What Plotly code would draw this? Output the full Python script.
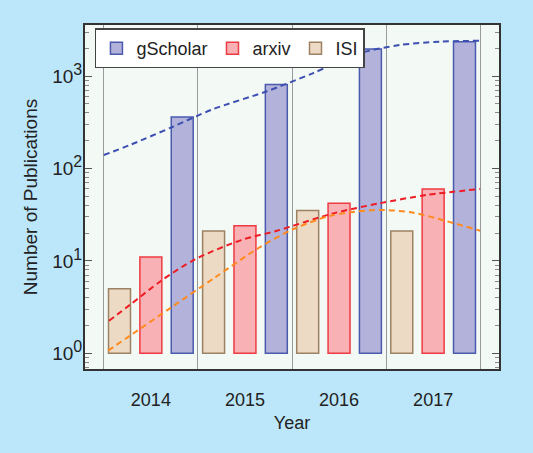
"""
Число публикаций по годам: gScholar, arxiv, ISI
Столбцы на логарифмической шкале + пунктирные тренды
"""

import numpy as np
import plotly.graph_objects as go

# === ДАННЫЕ ===
years = [2014, 2015, 2016, 2017]
gscholar = [360, 810, 1970, 2360]
arxiv = [11, 24, 42, 60]
isi = [5, 21, 35, 21]

# пунктирные тренды
gscholar_trend_x = [2013.5, 2013.78, 2014.22, 2014.66, 2015.22, 2015.72, 2016.22, 2016.65, 2017.07, 2017.5]
gscholar_trend_y = [140, 180, 279, 438, 678, 1072, 1766, 2171, 2357, 2415]
arxiv_trend_x = [2013.556, 2013.79, 2014.11, 2014.47, 2014.96, 2015.34, 2015.94, 2016.43, 2016.93, 2017.5]
arxiv_trend_y = [2.25, 3.42, 6.1, 10.4, 16.8, 21.2, 32.7, 42, 51.7, 60]
isi_trend_x = [2013.546, 2013.79, 2014.22, 2014.68, 2015.14, 2015.51, 2015.94, 2016.43, 2016.79, 2017.14, 2017.5]
isi_trend_y = [1.07, 1.58, 3.15, 6.6, 13.7, 22, 31.4, 35.6, 33.2, 27, 21.2]

y_tickvals = [1, 10, 100, 1000]
y_ticktext = ['10<sup><span style="font-size:16px">%d</span></sup>' % p for p in range(4)]

FONT = 'Liberation Sans, Arial, sans-serif'
BAR_BASE = 1  # столбцы растут от 10^0

# (имя, значения, заливка, обводка, порядок в легенде)
series = [
    ('ISI', isi, '#EDDAC5', '#9C8263', 3),
    ('arxiv', arxiv, '#F8B1B4', '#EE3B42', 2),
    ('gScholar', gscholar, '#B3B2DA', '#4A5BAE', 1),
]

fig = go.Figure()

for name, vals, fill, edge, rank in series:
    fig.add_trace(go.Bar(
        x=years,
        y=np.array(vals) - BAR_BASE,
        base=BAR_BASE,
        name=name,
        marker=dict(color=fill, line=dict(color=edge, width=1.5)),
        legendrank=rank,
    ))

trends = [
    (gscholar_trend_x, gscholar_trend_y, '#3D4FB0'),
    (arxiv_trend_x, arxiv_trend_y, '#EE1C25'),
    (isi_trend_x, isi_trend_y, '#FF8A1E'),
]
for tx, ty, col in trends:
    fig.add_trace(go.Scatter(
        x=tx, y=ty, mode='lines', showlegend=False,
        line=dict(color=col, width=2, dash='6px,4px', shape='spline', smoothing=0.8),
        hoverinfo='skip',
    ))

fig.update_layout(
    width=533, height=453,
    margin=dict(l=85, r=34, t=25, b=84),
    paper_bgcolor='#BCE6F9',
    plot_bgcolor='#F3F9F5',
    font=dict(family=FONT, size=18, color='#222222'),
    barmode='group',
    bargap=0.0,
    bargroupgap=0.3,
    legend=dict(
        orientation='h',
        x=0.024, y=0.99, xanchor='left', yanchor='top',
        bgcolor='white', bordercolor='#444444', borderwidth=1.5,
        font=dict(size=18),
        itemwidth=30,
    ),
    showlegend=True,
)

fig.update_xaxes(
    range=[2013.3, 2017.7],
    tick0=2014, dtick=1,
    showgrid=False, zeroline=False,
    ticks='', ticklabelstandoff=13,
    showline=True, linecolor='#333333', linewidth=2, mirror=True,
    minor=dict(tick0=2013.5, dtick=1, showgrid=True,
               gridcolor='#9A9A9A', gridwidth=1, ticks=''),
    title=dict(text='Year', standoff=8, font=dict(size=18)),
)

fig.update_yaxes(
    type='log',
    range=[-0.17, 3.553],
    tickvals=y_tickvals, ticktext=y_ticktext,
    tickfont=dict(size=19),
    ticklabelstandoff=-3,
    showgrid=False, zeroline=False,
    ticks='inside', ticklen=7, tickcolor='#555555', tickwidth=1,
    showline=True, linecolor='#333333', linewidth=2, mirror='ticks',
    minor=dict(ticks='inside', ticklen=4, tickcolor='#888888', dtick='D1', showgrid=False),
    title=dict(text='Number of Publications', standoff=10, font=dict(size=19)),
)

# убираем отступ body, чтобы фигура встала ровно в окно
fig.write_html(
    "out.html",
    config={'displayModeBar': False},
    post_script="document.body.style.margin='0';",
)
